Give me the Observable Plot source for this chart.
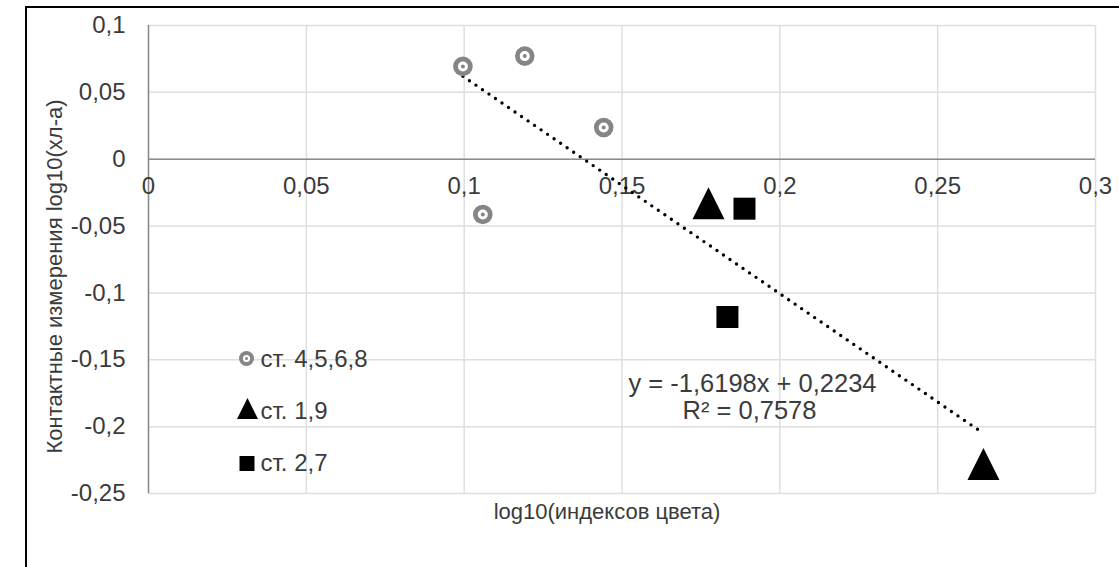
<!DOCTYPE html>
<html>
<head>
<meta charset="utf-8">
<script src="https://cdn.jsdelivr.net/npm/d3@7"></script>
<script src="https://cdn.jsdelivr.net/npm/@observablehq/plot@0.6"></script>
<style>
  html, body { margin: 0; padding: 0; background: #fff; overflow: hidden; width: 1119px; height: 567px; }
  #wrap { position: relative; width: 1119px; height: 567px; overflow: hidden; }
  #frame { position: absolute; left: 25px; top: 6px; width: 1300px; height: 800px;
           border-left: 2px solid #000; border-top: 2px solid #000; box-sizing: border-box; }
  #chart { position: absolute; left: 0; top: 0; }
</style>
</head>
<body>
<div id="wrap"><div id="frame"></div><div id="chart"></div></div>
<script>
// ---- data ----
const groupNames = ["ст. 4,5,6,8", "ст. 1,9", "ст. 2,7"];
const circleX = [0.0996, 0.1192, 0.1442, 0.1059];
const circleY = [0.0694, 0.0771, 0.0237, -0.0413];
const triangleX = [0.1774, 0.2645];
const triangleY = [-0.033, -0.228];
const squareX = [0.1888, 0.1834];
const squareY = [-0.037, -0.118];
const trendSlope = -1.6198;
const trendIntercept = 0.2234;
const trendLabel = "y = -1,6198x + 0,2234";
const r2Label = "R² = 0,7578";
const xTicks = [0, 0.05, 0.1, 0.15, 0.2, 0.25, 0.3];
const yTicks = [0.1, 0.05, 0, -0.05, -0.1, -0.15, -0.2, -0.25];
const xTitle = "log10(индексов цвета)";
const yTitle = "Контактные измерения log10(хл-а)";

// ---- build ----
const toPts = (xs, ys) => xs.map((x, i) => ({x, y: ys[i]}));
const circles = toPts(circleX, circleY);
const triangles = toPts(triangleX, triangleY);
const squares = toPts(squareX, squareY);
const allX = [...circleX, ...triangleX, ...squareX];
const x0 = d3.min(allX), x1 = d3.max(allX);
const trend = [x0, x1].map(x => ({x, y: trendSlope * x + trendIntercept}));
const fmt = v => String(+(+v).toFixed(2)).replace(".", ",");

const triSym = {draw(ctx, size) { const s = Math.sqrt(size / Math.PI);
  ctx.moveTo(0, -s); ctx.lineTo(s, s); ctx.lineTo(-s, s); ctx.closePath(); }};
const sqSym = {draw(ctx, size) { const s = Math.sqrt(size / Math.PI);
  ctx.moveTo(-s, -s); ctx.lineTo(s, -s); ctx.lineTo(s, s); ctx.lineTo(-s, s); ctx.closePath(); }};

const ringGray = "#858585";
const textCol = "#3b3b3b";
const FS_TICK = 24, FS_TITLE = 22, FS_LEG = 24, FS_EQ = 25.5;
const legendDy = [334, 386, 438];

const chart = Plot.plot({
  width: 1119, height: 567,
  marginLeft: 148, marginRight: 24, marginTop: 25, marginBottom: 74,
  x: {domain: [0, 0.3], axis: null},
  y: {domain: [-0.25, 0.1], axis: null},
  style: {fontFamily: "'Liberation Sans', Arial, sans-serif", fontSize: "22px", color: textCol, background: "transparent", overflow: "visible"},
  marks: [
    Plot.gridX(xTicks.filter(t => t > 0), {stroke: "#dedede", strokeOpacity: 1, strokeWidth: 1.5}),
    Plot.gridY(yTicks, {stroke: "#dedede", strokeOpacity: 1, strokeWidth: 1.5}),
    Plot.ruleX([0], {stroke: "#8a8a8a", strokeWidth: 1.6}),
    Plot.ruleY([0], {stroke: "#8a8a8a", strokeWidth: 1.6}),
    Plot.text(yTicks, {x: 0, y: d => d, text: fmt, textAnchor: "end", lineAnchor: "middle", dx: -23, fontSize: FS_TICK, fill: textCol}),
    Plot.text(xTicks, {x: d => d, y: 0, text: fmt, lineAnchor: "middle", dy: 27, fontSize: FS_TICK, fill: textCol}),
    Plot.text([xTitle], {frameAnchor: "bottom", textAnchor: "middle", lineAnchor: "middle", dx: -15, dy: 18, fontSize: FS_TITLE, fill: textCol}),
    Plot.text([yTitle], {frameAnchor: "left", textAnchor: "middle", lineAnchor: "middle", rotate: -90, dx: -94, dy: 17, fontSize: FS_TITLE, fill: textCol}),
    Plot.line(trend, {x: "x", y: "y", stroke: "#000", strokeWidth: 3.4, strokeDasharray: "0 7.9", strokeLinecap: "round"}),
    // circle markers (ring with centre dot)
    Plot.dot(circles, {x: "x", y: "y", r: 9.8, fill: ringGray, stroke: "none"}),
    Plot.dot(circles, {x: "x", y: "y", r: 5, fill: "#fff", stroke: "none"}),
    Plot.dot(circles, {x: "x", y: "y", r: 2, fill: ringGray, stroke: "none"}),
    Plot.dot(triangles, {x: "x", y: "y", r: 16, symbol: triSym, fill: "#000", stroke: "none"}),
    Plot.dot(squares, {x: "x", y: "y", r: 11, symbol: sqSym, fill: "#000", stroke: "none"}),
    // trend label
    Plot.text([trendLabel], {frameAnchor: "top-left", textAnchor: "middle", lineAnchor: "middle", dx: 604, dy: 358, fontSize: FS_EQ, fill: textCol}),
    Plot.text([r2Label], {frameAnchor: "top-left", textAnchor: "middle", lineAnchor: "middle", dx: 601, dy: 385, fontSize: FS_EQ, fill: textCol}),
    // legend markers
    Plot.dot([0], {frameAnchor: "top-left", dx: 98, dy: 333, r: 7.5, fill: ringGray, stroke: "none"}),
    Plot.dot([0], {frameAnchor: "top-left", dx: 98, dy: 333, r: 3.6, fill: "#fff", stroke: "none"}),
    Plot.dot([0], {frameAnchor: "top-left", dx: 98, dy: 333, r: 1.5, fill: ringGray, stroke: "none"}),
    Plot.dot([0], {frameAnchor: "top-left", dx: 99, dy: 383, r: 10.5, symbol: triSym, fill: "#000", stroke: "none"}),
    Plot.dot([0], {frameAnchor: "top-left", dx: 98.5, dy: 438, r: 7.5, symbol: sqSym, fill: "#000", stroke: "none"}),
    // legend labels
    ...groupNames.map((name, i) => Plot.text([name], {frameAnchor: "top-left", textAnchor: "start", lineAnchor: "middle",
      dx: 112, dy: legendDy[i], fontSize: FS_LEG, fill: textCol}))
  ]
});
document.getElementById("chart").appendChild(chart);
</script>
</body>
</html>
